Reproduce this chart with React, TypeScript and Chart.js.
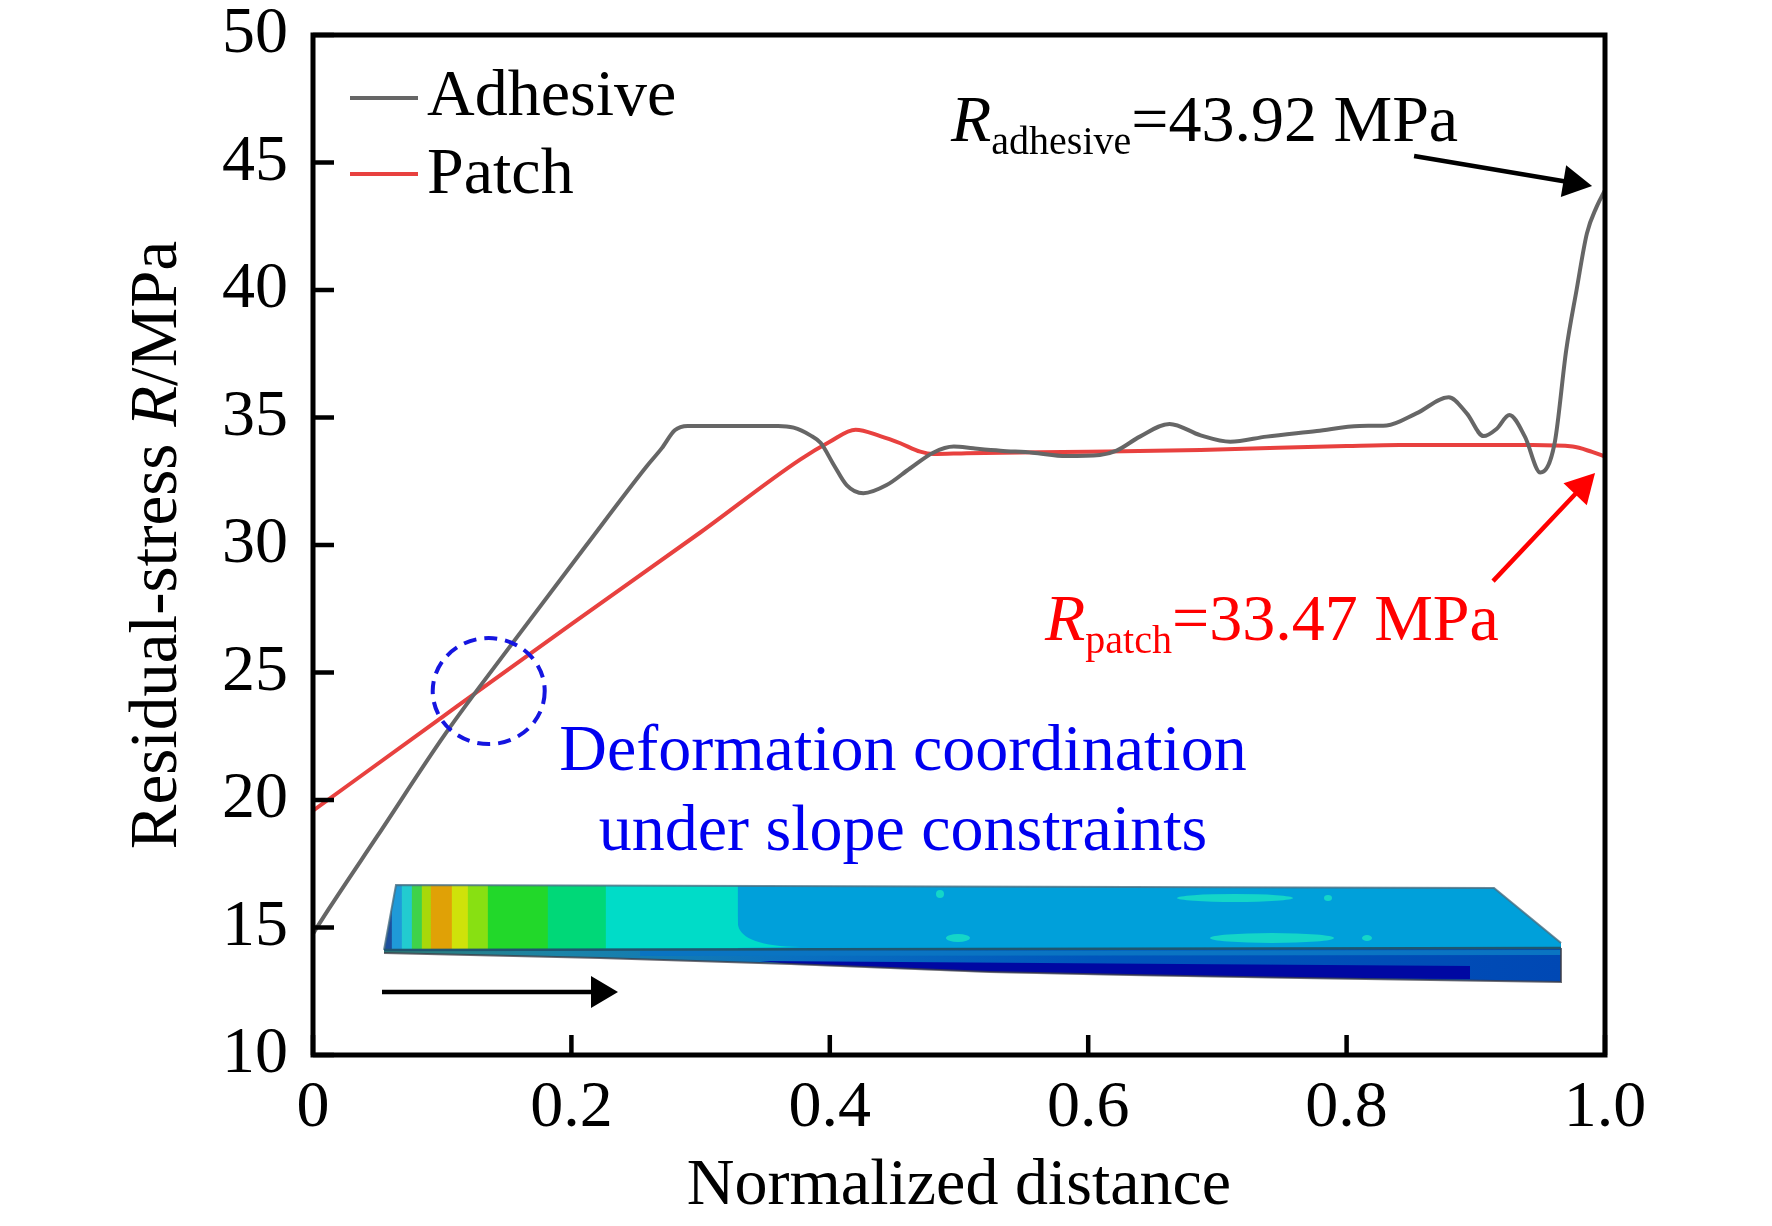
import React, { useEffect, useRef } from "react";
import { Chart, registerables } from "chart.js";

Chart.register(...registerables);

// ---------------- data ----------------
const seriesNames = ["Adhesive", "Patch"];

const adhesiveX = [
  0, 0.0125, 0.05, 0.1028, 0.1544, 0.2117, 0.258, 0.27, 0.28, 0.29, 0.36, 0.372,
  0.385, 0.393, 0.403, 0.413, 0.426, 0.444, 0.462, 0.48, 0.496, 0.511, 0.532,
  0.557, 0.583, 0.609, 0.622, 0.64, 0.663, 0.687, 0.71, 0.738, 0.777, 0.81,
  0.831, 0.854, 0.879, 0.893, 0.906, 0.916, 0.926, 0.938, 0.95, 0.961, 0.97,
  0.978, 0.986, 0.9936, 1.0,
];
const adhesiveY = [
  14.76, 15.75, 18.6, 22.62, 26.15, 30.0, 33.07, 33.8, 34.5, 34.67, 34.67, 34.6,
  34.3, 34.0, 33.15, 32.35, 32.03, 32.35, 33.0, 33.62, 33.86, 33.79, 33.7,
  33.62, 33.49, 33.53, 33.7, 34.25, 34.75, 34.3, 34.05, 34.25, 34.47, 34.67,
  34.69, 35.16, 35.79, 35.16, 34.27, 34.55, 35.1, 34.25, 32.84, 33.99, 37.65,
  40.0, 42.22, 43.27, 43.92,
];

const patchX = [
  0, 0.1, 0.2, 0.3, 0.377, 0.4, 0.42, 0.439, 0.4546, 0.47, 0.48, 0.506, 0.6,
  0.687, 0.8, 0.841, 0.944, 0.975, 0.99, 1.0,
];
const patchY = [
  19.58, 23.25, 26.9, 30.5, 33.35, 34.05, 34.52, 34.27, 33.99, 33.66, 33.57,
  33.6, 33.66, 33.73, 33.88, 33.92, 33.92, 33.86, 33.65, 33.47,
];

const xTickValues = [0, 0.2, 0.4, 0.6, 0.8, 1.0];
const xTickLabels = ["0", "0.2", "0.4", "0.6", "0.8", "1.0"];
const yTickValues = [10, 15, 20, 25, 30, 35, 40, 45, 50];
const yTickLabels = ["10", "15", "20", "25", "30", "35", "40", "45", "50"];

const adhesivePeak = 43.92;
const patchEnd = 33.47;
// annotation anchors (data space)
const circleCenter = { x: 0.136, y: 24.27 };
const adhesiveArrowTip = { x: 0.99, y: 44.08 };
const patchArrowTip = { x: 0.9923, y: 32.82 };

// ---------------- layout / style ----------------
const W = 1772;
const H = 1226;
const FONT = '"Liberation Serif", "Times New Roman", serif';
const GREY = "#666666";
const RED = "#e8413f";

function arrow(
  ctx: CanvasRenderingContext2D,
  x0: number,
  y0: number,
  x1: number,
  y1: number,
  color: string,
  lw: number,
  headLen: number,
  halfW: number
) {
  const dx = x1 - x0;
  const dy = y1 - y0;
  const L = Math.hypot(dx, dy);
  const ux = dx / L;
  const uy = dy / L;
  const bx = x1 - ux * headLen;
  const by = y1 - uy * headLen;
  ctx.save();
  ctx.strokeStyle = color;
  ctx.fillStyle = color;
  ctx.lineWidth = lw;
  ctx.beginPath();
  ctx.moveTo(x0, y0);
  ctx.lineTo(bx + ux * 2, by + uy * 2);
  ctx.stroke();
  ctx.beginPath();
  ctx.moveTo(x1, y1);
  ctx.lineTo(bx - uy * halfW, by + ux * halfW);
  ctx.lineTo(bx + uy * halfW, by - ux * halfW);
  ctx.closePath();
  ctx.fill();
  ctx.restore();
}

function drawStrip(ctx: CanvasRenderingContext2D) {
  const x0 = 384;
  const x1 = 1561;
  const f = (v: number) => Math.min(1, Math.max(0, (v - x0) / (x1 - x0)));
  ctx.save();

  // side (front) face
  const bottomPts: [number, number][] = [
    [1561, 982],
    [1300, 978],
    [1130, 975],
    [990, 972],
    [791, 964],
    [600, 958],
    [384, 953],
  ];
  ctx.beginPath();
  ctx.moveTo(384, 950);
  ctx.lineTo(1561, 948);
  bottomPts.forEach(([px, py]) => ctx.lineTo(px, py));
  ctx.closePath();
  const gs = ctx.createLinearGradient(x0, 0, x1, 0);
  gs.addColorStop(0, "#2f7e76");
  gs.addColorStop(0.15, "#1a84a8");
  gs.addColorStop(0.35, "#0a70c0");
  gs.addColorStop(0.6, "#0056bc");
  gs.addColorStop(1, "#0048b4");
  ctx.fillStyle = gs;
  ctx.fill();

  // navy lower band
  ctx.beginPath();
  ctx.moveTo(760, 961);
  ctx.lineTo(1180, 964);
  ctx.lineTo(1470, 966);
  ctx.lineTo(1470, 979);
  ctx.lineTo(1300, 978);
  ctx.lineTo(1130, 975);
  ctx.lineTo(990, 972);
  ctx.lineTo(791, 964);
  ctx.closePath();
  ctx.fillStyle = "#0008a2";
  ctx.fill();

  // lighter band right under the top face
  ctx.beginPath();
  ctx.moveTo(640, 951);
  ctx.lineTo(1561, 950);
  ctx.lineTo(1561, 955);
  ctx.lineTo(640, 956);
  ctx.closePath();
  ctx.fillStyle = "#0a74c2";
  ctx.fill();

  // bottom / right outline
  ctx.beginPath();
  ctx.moveTo(384, 953);
  for (let i = bottomPts.length - 1; i >= 0; i--) ctx.lineTo(bottomPts[i][0], bottomPts[i][1]);
  ctx.lineTo(1561, 948);
  ctx.strokeStyle = "rgba(60,60,70,0.75)";
  ctx.lineWidth = 2;
  ctx.stroke();

  // top face
  ctx.beginPath();
  ctx.moveTo(396, 885);
  ctx.lineTo(1494, 888);
  ctx.lineTo(1561, 943);
  ctx.lineTo(1561, 948);
  ctx.lineTo(384, 950);
  ctx.closePath();
  const g = ctx.createLinearGradient(x0, 0, x1, 0);
  const bands: [number, string][] = [
    [384, "#1d4f9c"],
    [392, "#1f9ad8"],
    [402, "#22cbd0"],
    [412, "#3fd24a"],
    [422, "#a8d80a"],
    [431, "#e0a106"],
    [452, "#cfe20a"],
    [468, "#88e012"],
    [488, "#22d82a"],
    [548, "#00d878"],
    [606, "#00dcc8"],
    [738, "#00a0da"],
  ];
  bands.forEach(([bx, col], i) => {
    g.addColorStop(f(bx), col);
    const next = i + 1 < bands.length ? bands[i + 1][0] : x1;
    g.addColorStop(Math.max(f(bx), f(next) - 0.0005), col);
  });
  ctx.fillStyle = g;
  ctx.fill();

  // cyan bulge into the blue
  ctx.beginPath();
  ctx.moveTo(736, 905);
  ctx.lineTo(738, 925);
  ctx.quadraticCurveTo(742, 946, 800, 947);
  ctx.lineTo(736, 948);
  ctx.closePath();
  ctx.fillStyle = "#00dcc8";
  ctx.fill();

  // cyan spots
  ctx.fillStyle = "#14d6c8";
  const spots: [number, number, number, number][] = [
    [1235, 898, 58, 4],
    [1272, 938, 62, 5],
    [1328, 898, 4, 3],
    [1367, 938, 5, 3],
    [940, 894, 4, 4],
    [958, 938, 12, 4],
  ];
  spots.forEach(([sx, sy, rx, ry]) => {
    ctx.beginPath();
    ctx.ellipse(sx, sy, rx, ry, 0, 0, Math.PI * 2);
    ctx.fill();
  });

  // outlines of top face
  ctx.beginPath();
  ctx.moveTo(384, 950);
  ctx.lineTo(396, 885);
  ctx.lineTo(1494, 888);
  ctx.lineTo(1561, 943);
  ctx.strokeStyle = "rgba(70,110,130,0.8)";
  ctx.lineWidth = 2;
  ctx.stroke();
  ctx.beginPath();
  ctx.moveTo(384, 950);
  ctx.lineTo(1561, 948);
  ctx.strokeStyle = "#1e5670";
  ctx.lineWidth = 2.5;
  ctx.stroke();
  ctx.restore();

  // direction arrow under the strip
  arrow(ctx, 382, 992, 618, 992, "#000000", 4.5, 27, 16);
}

const decorPlugin = {
  id: "decor",
  beforeDatasetsDraw(chart: any) {
    drawStrip(chart.ctx);
  },
  afterDatasetsDraw(chart: any) {
    const ctx: CanvasRenderingContext2D = chart.ctx;
    const { left, right, top, bottom } = chart.chartArea;
    const xs = chart.scales.x;
    const ys = chart.scales.y;
    ctx.save();

    // frame
    ctx.strokeStyle = "#000";
    ctx.lineWidth = 5;
    ctx.lineJoin = "miter";
    ctx.strokeRect(left, top, right - left, bottom - top);

    // inward ticks
    ctx.lineWidth = 4.5;
    yTickValues.forEach((v) => {
      const py = ys.getPixelForValue(v);
      ctx.beginPath();
      ctx.moveTo(left, py);
      ctx.lineTo(left + 21, py);
      ctx.stroke();
    });
    xTickValues.forEach((v) => {
      const px = xs.getPixelForValue(v);
      ctx.beginPath();
      ctx.moveTo(px, bottom);
      ctx.lineTo(px, bottom - 20);
      ctx.stroke();
    });

    // dashed circle
    ctx.save();
    ctx.strokeStyle = "#1515e0";
    ctx.lineWidth = 4;
    ctx.setLineDash([13, 8]);
    ctx.beginPath();
    ctx.ellipse(
      xs.getPixelForValue(circleCenter.x),
      ys.getPixelForValue(circleCenter.y),
      56,
      53,
      0,
      0,
      Math.PI * 2
    );
    ctx.stroke();
    ctx.restore();

    // blue note
    ctx.fillStyle = "#0000f0";
    ctx.font = `66px ${FONT}`;
    ctx.textAlign = "center";
    ctx.textBaseline = "alphabetic";
    ctx.fillText("Deformation coordination", 903, 770);
    ctx.fillText("under slope constraints", 903, 850);

    // legend
    ctx.textAlign = "left";
    ctx.lineWidth = 4;
    const legendColors = [GREY, RED];
    const legendLineY = [98, 174];
    const legendTextY = [115, 193];
    seriesNames.forEach((name, i) => {
      ctx.strokeStyle = legendColors[i];
      ctx.beginPath();
      ctx.moveTo(350, legendLineY[i]);
      ctx.lineTo(418, legendLineY[i]);
      ctx.stroke();
      ctx.fillStyle = "#000";
      ctx.font = `66px ${FONT}`;
      ctx.fillText(name, 427, legendTextY[i]);
    });

    // R annotations
    const drawSubLabel = (
      x: number,
      base: number,
      sub: string,
      rest: string,
      color: string
    ) => {
      ctx.fillStyle = color;
      ctx.font = `italic 66px ${FONT}`;
      ctx.fillText("R", x, base);
      let cx = x + ctx.measureText("R").width;
      ctx.font = `40px ${FONT}`;
      ctx.fillText(sub, cx, base + 13);
      cx += ctx.measureText(sub).width;
      ctx.font = `66px ${FONT}`;
      ctx.fillText(rest, cx, base);
    };
    drawSubLabel(951, 141, "adhesive", `=${adhesivePeak.toFixed(2)} MPa`, "#000");
    drawSubLabel(1045, 640, "patch", `=${patchEnd.toFixed(2)} MPa`, "#ff0000");

    // arrows
    const ax = xs.getPixelForValue(adhesiveArrowTip.x);
    const ay = ys.getPixelForValue(adhesiveArrowTip.y);
    arrow(ctx, ax - 178, ay - 30, ax, ay, "#000", 4.5, 29, 16);
    const px = xs.getPixelForValue(patchArrowTip.x);
    const py = ys.getPixelForValue(patchArrowTip.y);
    arrow(ctx, px - 102, py + 108, px, py, "#ff0000", 4.5, 29, 16);

    // y-axis title
    ctx.save();
    ctx.translate(158, (top + bottom) / 2);
    ctx.rotate(-Math.PI / 2);
    ctx.fillStyle = "#000";
    ctx.textBaseline = "middle";
    const parts: [string, string][] = [
      ["Residual-stress ", `67px ${FONT}`],
      ["R", `italic 67px ${FONT}`],
      ["/MPa", `67px ${FONT}`],
    ];
    let total = 0;
    parts.forEach(([t, fnt]) => {
      ctx.font = fnt;
      total += ctx.measureText(t).width;
    });
    let tx = -total / 2;
    parts.forEach(([t, fnt]) => {
      ctx.font = fnt;
      ctx.textAlign = "left";
      ctx.fillText(t, tx, 0);
      tx += ctx.measureText(t).width;
    });
    ctx.restore();

    ctx.restore();
  },
};

export default function App() {
  const ref = useRef<HTMLCanvasElement>(null);

  useEffect(() => {
    document.body.style.margin = "0";
    const canvas = ref.current;
    if (!canvas) return;
    const chart = new Chart(canvas, {
      type: "line",
      data: {
        datasets: [
          {
            label: seriesNames[0],
            data: adhesiveX.map((x, i) => ({ x, y: adhesiveY[i] })),
            borderColor: GREY,
            borderWidth: 4,
            pointRadius: 0,
            cubicInterpolationMode: "monotone",
            fill: false,
          },
          {
            label: seriesNames[1],
            data: patchX.map((x, i) => ({ x, y: patchY[i] })),
            borderColor: RED,
            borderWidth: 4,
            pointRadius: 0,
            cubicInterpolationMode: "monotone",
            fill: false,
          },
        ],
      },
      options: {
        animation: false,
        responsive: false,
        maintainAspectRatio: false,
        events: [],
        layout: { padding: { left: 0, right: W - 1605, top: 35, bottom: 0 } },
        plugins: {
          legend: { display: false },
          tooltip: { enabled: false },
        },
        scales: {
          x: {
            type: "linear",
            min: 0,
            max: 1,
            grid: { display: false, drawTicks: false },
            border: { display: false },
            afterBuildTicks: (scale: any) => {
              scale.ticks = xTickValues.map((v) => ({ value: v }));
            },
            afterFit: (scale: any) => {
              scale.height = 171;
              scale.paddingLeft = 0;
              scale.paddingRight = 0;
            },
            ticks: {
              autoSkip: false,
              maxRotation: 0,
              padding: 14,
              color: "#000",
              font: { family: FONT, size: 66 },
              callback: (v: any) => {
                const i = xTickValues.indexOf(Number(v));
                return i >= 0 ? xTickLabels[i] : "";
              },
            },
            title: {
              display: true,
              text: "Normalized distance",
              color: "#000",
              font: { family: FONT, size: 66 },
              padding: { top: 0, bottom: 0 },
            },
          },
          y: {
            type: "linear",
            min: 10,
            max: 50,
            grid: { display: false, drawTicks: false },
            border: { display: false },
            afterBuildTicks: (scale: any) => {
              scale.ticks = yTickValues.map((v) => ({ value: v }));
            },
            afterFit: (scale: any) => {
              scale.width = 313;
              scale.paddingTop = 0;
              scale.paddingBottom = 0;
            },
            ticks: {
              autoSkip: false,
              padding: 25,
              color: "#000",
              font: { family: FONT, size: 66, lineHeight: 1 },
              callback: (v: any) => {
                const i = yTickValues.indexOf(Number(v));
                return i >= 0 ? yTickLabels[i] : "";
              },
            },
          },
        },
      },
      plugins: [decorPlugin],
    } as any);
    return () => chart.destroy();
  }, []);

  return (
    <div style={{ width: W, height: H, background: "#fff" }}>
      <canvas
        ref={ref}
        width={W}
        height={H}
        style={{ width: `${W}px`, height: `${H}px`, display: "block" }}
      />
    </div>
  );
}
